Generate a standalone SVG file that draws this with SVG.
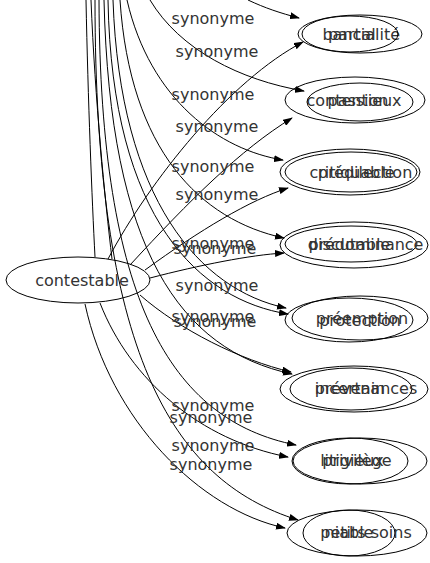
<svg xmlns="http://www.w3.org/2000/svg" width="430" height="563" viewBox="0 0 430 563">
<style>
.n ellipse{fill:none;stroke:#000;stroke-width:1}
.n text,.lbl{font-family:"DejaVu Sans",sans-serif;font-size:16px;fill:#333;text-anchor:middle}
.e path{fill:none;stroke:#000;stroke-width:1}
.e .a{marker-end:url(#ah)}
</style>
<defs>
<marker id="ah" viewBox="0 0 10 7" refX="9" refY="3.5" markerWidth="10" markerHeight="7" markerUnits="userSpaceOnUse" orient="auto">
<path d="M0,0 L10,3.5 L0,7 Z" fill="#000"/>
</marker>
</defs>
<rect width="430" height="563" fill="#fff"/>
<g class="e" id="edges">
<path d="M86,0 C88,100 92,200 95,257"/>
<path d="M91,0 C95,100 105,200 112,259"/>
<path class="a" d="M248,0 C265,8 280,13 299,18"/>
<path class="a" d="M108,259 C150,180 230,80 303,42"/>
<path class="a" d="M150,0 C180,50 240,80 304,91"/>
<path class="a" d="M130,265 C190,200 240,150 292,118"/>
<path class="a" d="M127,0 C150,100 220,150 283,160"/>
<path class="a" d="M145,270 C200,230 250,200 288,188"/>
<path class="a" d="M120,0 C130,150 200,220 284,238"/>
<path class="a" d="M150,278 C200,265 250,255 284,253"/>
<path class="a" d="M113,0 C120,200 200,290 286,308"/>
<path class="a" d="M108,0 C112,220 200,300 288,314"/>
<path class="a" d="M140,295 C180,330 240,360 291,372"/>
<path class="a" d="M104,0 C110,250 180,350 292,374"/>
<path class="a" d="M100,303 C130,380 200,440 288,457"/>
<path class="a" d="M99,0 C100,300 170,420 296,445"/>
<path class="a" d="M85,304 C110,420 200,510 285,528"/>
<path class="a" d="M95,0 C95,350 170,480 298,520"/>
<text class="lbl" x="213" y="24">synonyme</text>
<text class="lbl" x="217" y="57">synonyme</text>
<text class="lbl" x="213" y="100">synonyme</text>
<text class="lbl" x="217" y="132">synonyme</text>
<text class="lbl" x="213" y="172">synonyme</text>
<text class="lbl" x="217" y="200">synonyme</text>
<text class="lbl" x="213" y="249">synonyme</text>
<text class="lbl" x="215" y="254">synonyme</text>
<text class="lbl" x="217" y="291">synonyme</text>
<text class="lbl" x="213" y="322">synonyme</text>
<text class="lbl" x="215" y="327">synonyme</text>
<text class="lbl" x="213" y="411">synonyme</text>
<text class="lbl" x="211" y="423">synonyme</text>
<text class="lbl" x="213" y="451">synonyme</text>
<text class="lbl" x="211" y="470">synonyme</text>
</g>
<g class="n" id="contestable"><ellipse cx="78" cy="280" rx="72" ry="23"/><text x="82" y="286">contestable</text></g>
<g class="n" id="partialite"><ellipse cx="360" cy="34" rx="62" ry="19"/><text x="364" y="40">partialité</text></g>
<g class="n" id="bancal"><ellipse cx="350" cy="34" rx="48" ry="18"/><text x="349" y="40">bancal</text></g>
<g class="n" id="contentieux"><ellipse cx="355" cy="100" rx="70" ry="23"/><text x="354" y="106">contentieux</text></g>
<g class="n" id="passion"><ellipse cx="360" cy="102" rx="53" ry="19"/><text x="358" y="106">passion</text></g>
<g class="n" id="critiquable"><ellipse cx="350" cy="172" rx="70" ry="23"/><text x="352" y="178">critiquable</text></g>
<g class="n" id="predilection"><ellipse cx="351" cy="172" rx="66" ry="20"/><text x="365" y="178">prédilection</text></g>
<g class="n" id="discutable"><ellipse cx="351" cy="244" rx="66" ry="18"/><text x="349" y="250">discutable</text></g>
<g class="n" id="predominance"><ellipse cx="354" cy="245" rx="74" ry="23"/><text x="366" y="250">prédominance</text></g>
<g class="n" id="protection"><ellipse cx="349" cy="320" rx="64" ry="22"/><text x="360" y="326">protection</text></g>
<g class="n" id="preemption"><ellipse cx="360" cy="318" rx="68" ry="22"/><text x="362" y="324">préemption</text></g>
<g class="n" id="incertain"><ellipse cx="351" cy="389" rx="61" ry="21"/><text x="350" y="394">incertain</text></g>
<g class="n" id="prevenances"><ellipse cx="354" cy="389" rx="74" ry="23"/><text x="366" y="394">prévenances</text></g>
<g class="n" id="litigieux"><ellipse cx="350" cy="461" rx="58" ry="23"/><text x="352" y="466">litigieux</text></g>
<g class="n" id="privilege"><ellipse cx="360" cy="461" rx="67" ry="23"/><text x="357" y="466">privilège</text></g>
<g class="n" id="niable"><ellipse cx="349" cy="533" rx="46" ry="23"/><text x="349" y="538">niable</text></g>
<g class="n" id="petitssoins"><ellipse cx="357" cy="533" rx="70" ry="23"/><text x="366" y="538">petits soins</text></g>
</svg>
